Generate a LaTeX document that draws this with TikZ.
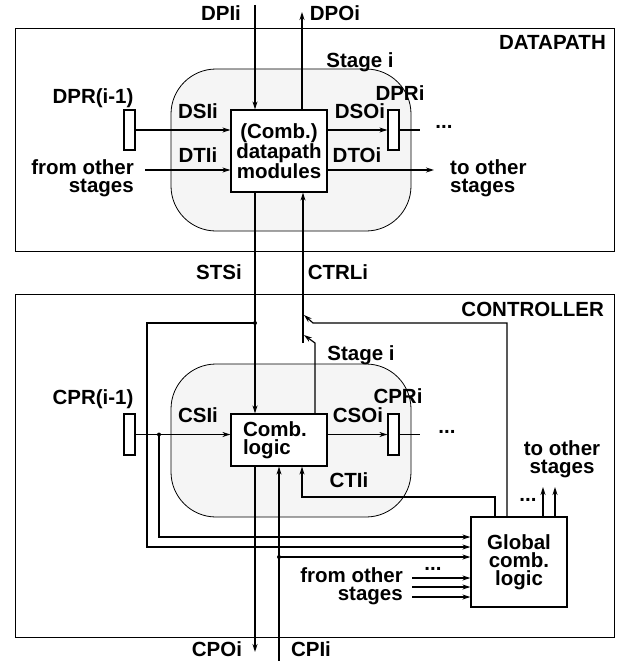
\documentclass[tikz,border=0pt]{standalone}
\usepackage{fontspec}
\setmainfont{Liberation Sans}
\usetikzlibrary{arrows.meta}
\begin{document}
\begin{tikzpicture}[x=1pt,y=-1pt,
  every node/.style={font=\bfseries\fontsize{20.5}{18}\selectfont},
  lab/.style={inner sep=0pt},
  blk/.style={draw,line width=1.2pt,fill=white,inner sep=0pt},
  reg/.style={draw,line width=1.2pt,fill=white,minimum width=11pt,minimum height=40pt,inner sep=0pt},
  stg/.style={draw,line width=0.8pt,fill=black!4,rounded corners=45pt,inner sep=0pt},
  outer/.style={draw,line width=1pt,inner sep=0pt},
  wire/.style={line width=1.2pt},
  arr/.style={wire,-{Stealth[length=8pt,width=5pt]}},
  dot/.style={circle,fill,inner sep=0pt,minimum size=4pt}
]
\useasboundingbox (0,0) rectangle (616,661);
\fill[white] (0,0) rectangle (616,661);
% outer boxes
\node[outer,minimum width=599pt,minimum height=222pt] (dp) at (314.5,140) {};
\node[outer,minimum width=599pt,minimum height=343pt] (cp) at (314.5,465.5) {};
\node[lab,anchor=base east] (dplab) at (606,50) {DATAPATH};
\node[lab,anchor=base east] (cplab) at (604,316) {CONTROLLER};
% stages
\node[stg,minimum width=240pt,minimum height=162pt] (dps) at (291,150) {};
\node[stg,minimum width=240pt,minimum height=153pt] (cps) at (291,440.5) {};
\node[lab,anchor=base] (dpstl) at (360,67) {Stage i};
\node[lab,anchor=base] (cpstl) at (361,360) {Stage i};
% blocks
\node[blk,minimum width=96pt,minimum height=82pt,align=center] (mod) at (279,151) {(Comb.)\\datapath\\modules};
\node[blk,minimum width=96pt,minimum height=52pt,align=left,text width=72pt] (comb) at (279,440) {Comb.\\logic};
\node[blk,minimum width=96pt,minimum height=90pt,align=center] (glob) at (519,562) {Global\\comb.\\logic};
% registers
\node[reg] (rdp0) at (129.5,130) {};
\node[reg] (rdp1) at (393.5,130) {};
\node[reg,minimum height=41pt] (rcp0) at (129.5,434.5) {};
\node[reg,minimum height=41pt] (rcp1) at (393.5,434.5) {};
% coordinates
\coordinate (dpiT) at (255,5);
\coordinate (dpoT) at (302,12);
\coordinate (dti) at (145,170);
\coordinate (dto) at (434,170);
\coordinate (dpdots) at (420,130);
\coordinate (stsj) at (255,323);
\coordinate (c1) at (147,547);
\coordinate (csj) at (159,434.5);
\coordinate (c2) at (159,537);
\coordinate (cdots) at (420,434.5);
\coordinate (cpoB) at (255,652);
\coordinate (cpiB) at (279,661);
\coordinate (cpj) at (279,557);
\coordinate (cti1) at (495,497);
\coordinate (cti2) at (302,497);
\coordinate (ctrlB) at (303,343);
\coordinate (m1) at (507,323);
\coordinate (m2) at (313,323);
\coordinate (m3) at (304,315);
\coordinate (m4) at (315,343);
\coordinate (m5) at (304,335);
\coordinate (o1) at (543,487);
\coordinate (o2) at (555,487);
\coordinate (f1) at (412,578);
\coordinate (f2) at (412,587);
\coordinate (f3) at (412,597);
% datapath wires
\draw[arr] (dpiT) -- (mod.north -| dpiT);
\draw[arr] (mod.north -| dpoT) -- (dpoT);
\draw[arr] (rdp0.east) -- (rdp0.east -| mod.west);
\draw[arr] (dti) -- (dti -| mod.west);
\draw[arr] (mod.east |- rdp1.west) -- (rdp1.west);
\draw[wire] (rdp1.east) -- (dpdots);
\draw[arr] (mod.east |- dto) -- (dto);
% between
\draw[arr] (mod.south -| dpiT) -- (comb.north -| dpiT);
\draw[arr] (ctrlB) -- (mod.south -| ctrlB);
\node[dot] (d1) at (stsj) {};
\draw[arr] (stsj) -| (c1) -- (c1 -| glob.west);
% controller wires
\draw[arr] (rcp0.east) -- (rcp0.east -| comb.west);
\node[dot] (d2) at (csj) {};
\draw[arr] (csj) -- (c2) -- (c2 -| glob.west);
\draw[arr] (comb.east |- rcp1.west) -- (rcp1.west);
\draw[wire] (rcp1.east) -- (cdots);
\draw[arr] (comb.south -| cpoB) -- (cpoB);
\draw[arr] (cpiB) -- (comb.south -| cpiB);
\node[dot] (d3) at (cpj) {};
\draw[arr] (cpj) -- (cpj -| glob.west);
\draw[arr] (glob.north -| cti1) -- (cti1) -- (cti2) -- (comb.south -| cti2);
\draw[arr] (glob.north -| m1) -- (m1) -- (m2) -- (m3);
\draw[arr] (comb.north -| m4) -- (m4) -- (m5);
\draw[arr] (glob.north -| o1) -- (o1);
\draw[arr] (glob.north -| o2) -- (o2);
\draw[arr] (f1) -- (f1 -| glob.west);
\draw[arr] (f2) -- (f2 -| glob.west);
\draw[arr] (f3) -- (f3 -| glob.west);
% labels
\node[lab,anchor=base] (ldpi) at (221,21) {DPIi};
\node[lab,anchor=base] (ldpo) at (335,21) {DPOi};
\node[lab,anchor=base] (ldpr0) at (93,103) {DPR(i-1)};
\node[lab,anchor=base] (ldsi) at (198,118) {DSIi};
\node[lab,anchor=base] (ldti) at (198,162) {DTIi};
\node[lab,anchor=base] (ldso) at (360,118) {DSOi};
\node[lab,anchor=base] (ldto) at (357,162) {DTOi};
\node[lab,anchor=base] (ldpr1) at (400,100) {DPRi};
\node[lab,anchor=base] (ldots1) at (444,128) {...};
\node[lab,anchor=base east,align=right] (lfrom1) at (134,192) {from other\\stages};
\node[lab,anchor=base west,align=left] (lto1) at (450,192) {to other\\stages};
\node[lab,anchor=base] (lsts) at (219,279) {STSi};
\node[lab,anchor=base] (lctrl) at (338,279) {CTRLi};
\node[lab,anchor=base] (lcpr0) at (93,404) {CPR(i-1)};
\node[lab,anchor=base] (lcsi) at (198,422) {CSIi};
\node[lab,anchor=base] (lcso) at (358,422) {CSOi};
\node[lab,anchor=base] (lcpr1) at (398,403) {CPRi};
\node[lab,anchor=base] (ldots2) at (447,433) {...};
\node[lab,anchor=base] (lcti) at (349,487) {CTIi};
\node[lab,anchor=base,align=center] (lto2) at (562,473) {to other\\stages};
\node[lab,anchor=base] (ldots3) at (528,501) {...};
\node[lab,anchor=base east,align=right] (lfrom2) at (403,600) {from other\\stages};
\node[lab,anchor=base] (ldots4) at (433,570) {...};
\node[lab,anchor=base] (lcpo) at (217,656) {CPOi};
\node[lab,anchor=base] (lcpi) at (311,656) {CPIi};
\end{tikzpicture}
\end{document}
